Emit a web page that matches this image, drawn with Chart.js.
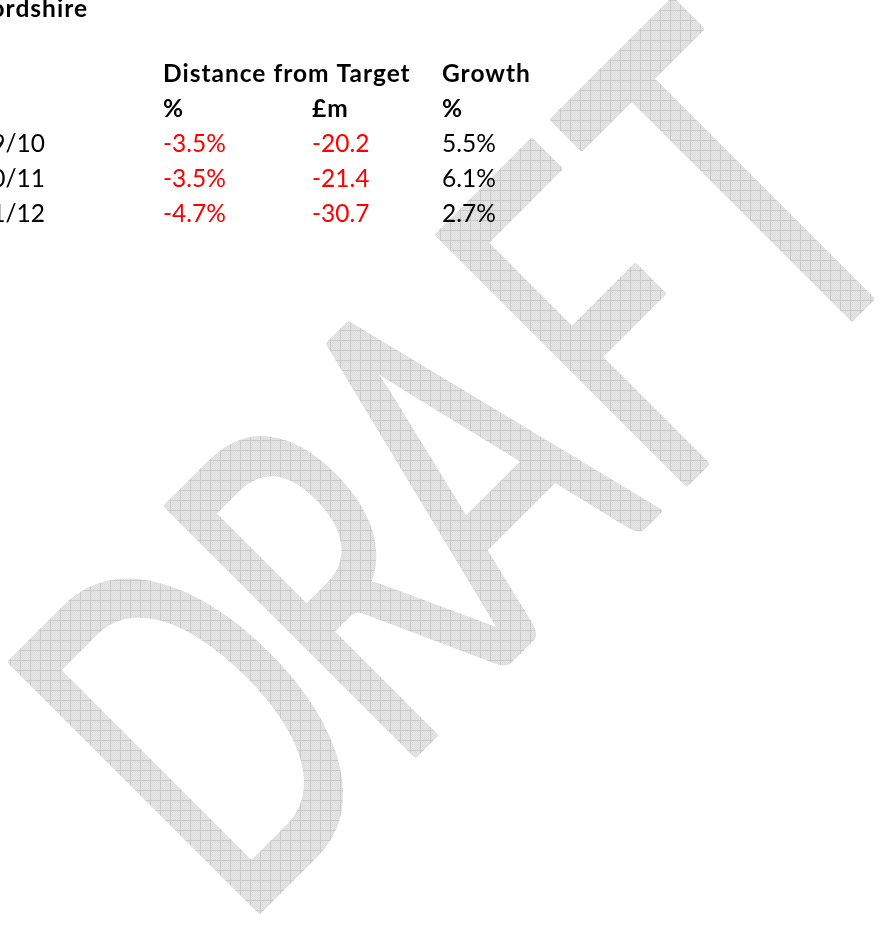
<!DOCTYPE html>
<html>
<head>
<meta charset="utf-8">
<script src="https://cdn.jsdelivr.net/npm/chart.js@4.4.1/dist/chart.umd.min.js"></script>
<style>
  html, body { margin: 0; padding: 0; background: #fff; overflow: hidden; }
  #wrap { width: 889px; height: 938px; }
</style>
</head>
<body>
<div id="wrap"><canvas id="chart" width="889" height="938"></canvas></div>
<script>
// Table data
const titleText = 'Staffordshire';
const years = ['2009/10', '2010/11', '2011/12'];
const distancePct = [-3.5, -3.5, -4.7];
const distanceGbp = [-20.2, -21.4, -30.7];
const growthPct = [5.5, 6.1, 2.7];
const groupHeaders = ['', 'Distance from Target', '', 'Growth'];
const unitHeaders = ['', '%', '£m', '%'];
const watermarkText = 'DRAFT';

// Layout (px)
const colX = [45, 163, 312, 442];   // label column is right aligned, others left aligned
const PITCH = 35;                    // line pitch
const FIRST_BASELINE = 82;           // baseline of the group header line
const TITLE_BASELINE = 17;
const TITLE_RIGHT = 88;
const FONT_FAMILY = 'Lato, "Open Sans", sans-serif';
const FONT_PX = 24.5;

// watermark: baseline origin, angle, cap height, and the centre of each letter along the baseline
const WM = { x: 266, y: 904, angle: -45, capHeight: 353, lineWidth: 1.2 };
const wmLetterCentre = [85, 292, 455, 662, 842];
const wmWidthRef = { D: 170, T: 195 };

// Format a cell
function formatCell(col, v) {
    if (col === 0) return v;
    if (col === 2) return v.toFixed(1);
    return v.toFixed(1) + '%';
}

const columns = [years, distancePct, distanceGbp, growthPct];

// one scatter dataset per column, rows start at line 2 (after the two header lines)
const datasets = columns.map((vals, c) => ({
    label: 'col' + c,
    data: vals.map((v, i) => ({ x: colX[c], y: i + 2 })),
    pointRadius: 0,
    pointHoverRadius: 0
}));

// crosshatch pattern used to fill the watermark letters
function makePattern(ctx) {
    const p = document.createElement('canvas');
    p.width = 10; p.height = 10;
    const pc = p.getContext('2d');
    pc.fillStyle = '#e6e6e6';
    pc.fillRect(0, 0, 10, 10);
    pc.fillStyle = '#dcdcdc';
    for (let y = 0; y < 10; y++) {
        for (let x = 0; x < 10; x++) {
            if ((x + y) % 2 === 0) pc.fillRect(x, y, 1, 1);
        }
    }
    pc.fillStyle = '#cbcbcb';
    pc.fillRect(0, 0, 10, 1);
    pc.fillRect(0, 0, 1, 10);
    return ctx.createPattern(p, 'repeat');
}

const watermarkPlugin = {
    id: 'draftWatermark',
    beforeDatasetsDraw(chart) {
        const ctx = chart.ctx;
        ctx.save();
        ctx.font = '400 100px ' + FONT_FAMILY;
        const inkW = ch => {
            const m = ctx.measureText(ch);
            return { w: m.actualBoundingBoxLeft + m.actualBoundingBoxRight, left: m.actualBoundingBoxLeft, asc: m.actualBoundingBoxAscent };
        };
        const k = WM.capHeight / inkW('D').asc;
        const sx = (wmWidthRef.D + wmWidthRef.T) / ((inkW('D').w + inkW('T').w) * k);
        ctx.translate(WM.x, WM.y);
        ctx.rotate(WM.angle * Math.PI / 180);
        const pat = makePattern(ctx);
        ctx.lineJoin = 'round';
        ctx.textBaseline = 'alphabetic';
        ctx.textAlign = 'left';
        watermarkText.split('').forEach((ch, i) => {
            const g = inkW(ch);
            ctx.save();
            ctx.translate(wmLetterCentre[i], 0);
            ctx.scale(sx * k, k);
            ctx.translate(g.left - g.w / 2, 0);
            pat.setTransform(ctx.getTransform().invertSelf());
            ctx.fillStyle = pat;
            ctx.strokeStyle = pat;
            ctx.lineWidth = WM.lineWidth;
            ctx.fillText(ch, 0, 0);
            ctx.strokeText(ch, 0, 0);
            ctx.restore();
        });
        ctx.restore();
    }
};

const tableTextPlugin = {
    id: 'tableText',
    afterDatasetsDraw(chart) {
        const ctx = chart.ctx;
        const xs = chart.scales.x, ys = chart.scales.y;
        ctx.save();
        ctx.textBaseline = 'alphabetic';

        // title (cut at the left edge in the source)
        ctx.font = 'bold ' + FONT_PX + 'px ' + FONT_FAMILY;
        ctx.letterSpacing = '1px';
        ctx.fillStyle = '#000';
        ctx.textAlign = 'right';
        ctx.fillText(titleText, xs.getPixelForValue(TITLE_RIGHT),
            ys.getPixelForValue((TITLE_BASELINE - FIRST_BASELINE) / PITCH));

        // header lines
        ctx.textAlign = 'left';
        [groupHeaders, unitHeaders].forEach((row, r) => {
            row.forEach((t, c) => {
                if (t) ctx.fillText(t, xs.getPixelForValue(colX[c]), ys.getPixelForValue(r));
            });
        });

        // body cells
        ctx.font = FONT_PX + 'px ' + FONT_FAMILY;
        ctx.letterSpacing = '0px';
        chart.data.datasets.forEach((ds, c) => {
            const meta = chart.getDatasetMeta(c);
            meta.data.forEach((pt, i) => {
                const v = columns[c][i];
                ctx.textAlign = c === 0 ? 'right' : 'left';
                ctx.fillStyle = (typeof v === 'number' && v < 0) ? '#ff0000' : '#000000';
                ctx.fillText(formatCell(c, v), pt.x, pt.y);
            });
        });
        ctx.restore();
    }
};

const yMin = -FIRST_BASELINE / PITCH;

new Chart(document.getElementById('chart'), {
    type: 'scatter',
    data: { datasets: datasets },
    options: {
        responsive: false,
        animation: false,
        events: [],
        layout: { padding: 0 },
        plugins: { legend: { display: false }, tooltip: { enabled: false } },
        scales: {
            x: { type: 'linear', display: false, min: 0, max: 889 },
            y: { type: 'linear', display: false, reverse: true, min: yMin, max: yMin + 938 / PITCH }
        }
    },
    plugins: [watermarkPlugin, tableTextPlugin]
});
</script>
</body>
</html>
